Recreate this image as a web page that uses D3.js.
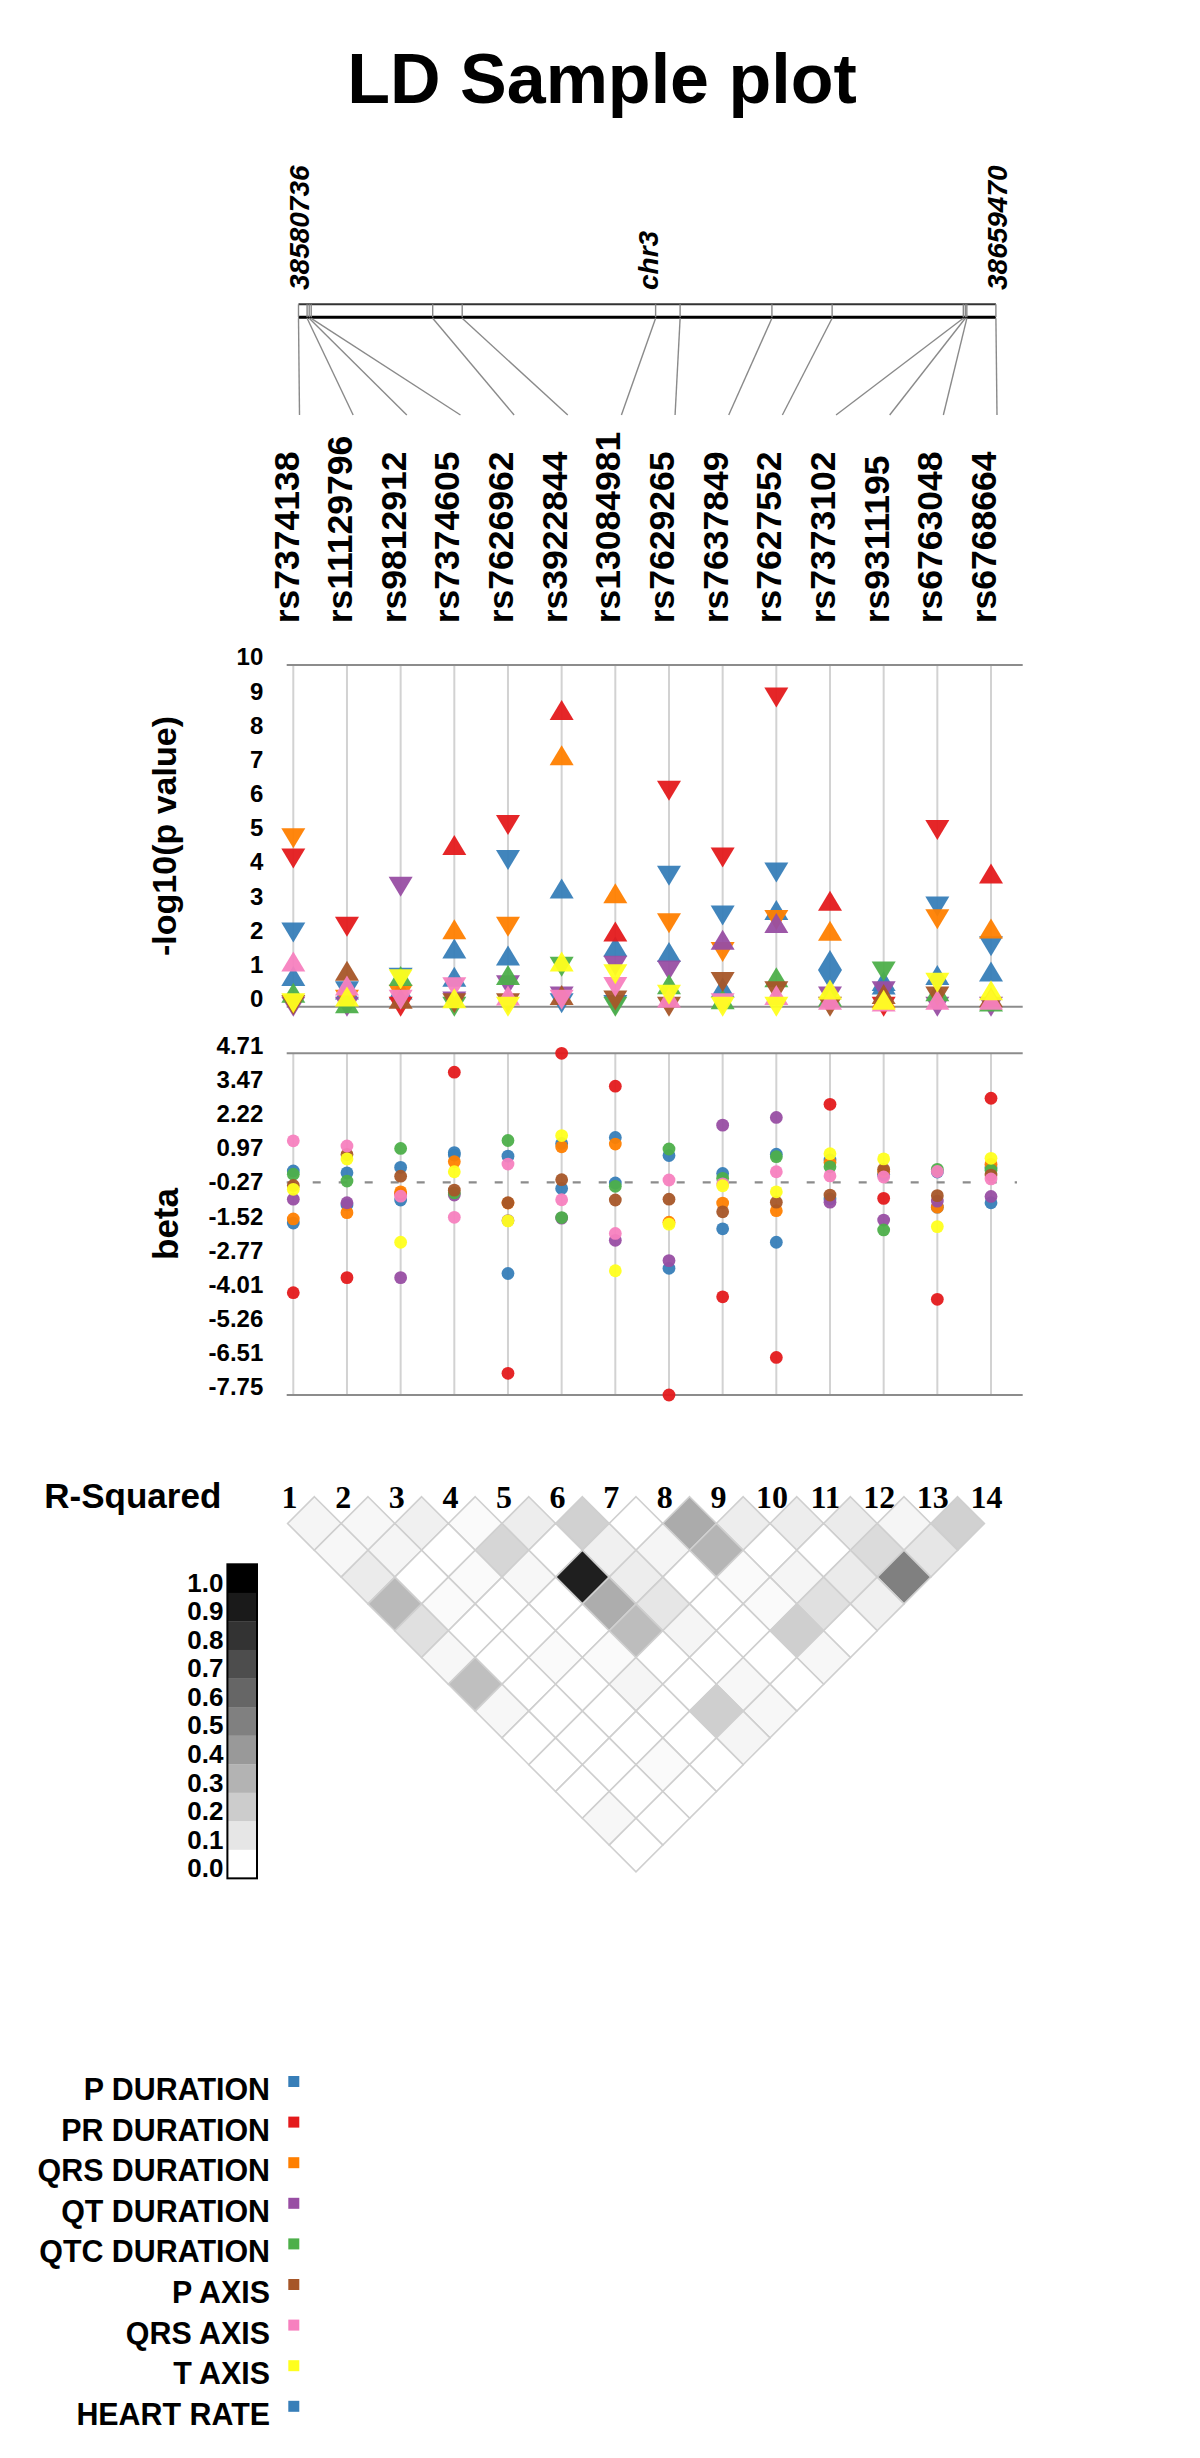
<!DOCTYPE html>
<html><head><meta charset="utf-8">
<script src="https://cdn.jsdelivr.net/npm/d3@7/dist/d3.min.js"></script>
<style>body{margin:0;background:#fff}svg{display:block}</style>
</head><body><svg id="c" width="1200" height="2458"></svg>
<script>
// ---------------- DATA ----------------
const title = "LD Sample plot";
const chromName = "chr3";
const regionStart = 38580736, regionEnd = 38659470;
const snps = ["rs7374138","rs11129796","rs9812912","rs7374605","rs7626962","rs3922844","rs13084981",
              "rs7629265","rs7637849","rs7627552","rs7373102","rs9311195","rs6763048","rs6768664"];
const snpPositions = [38580736,38581707,38581944,38582170,38595887,38599217,38621053,
                      38623819,38634184,38640980,38655792,38656018,38656188,38659470];
const traits = ["P DURATION","PR DURATION","QRS DURATION","QT DURATION","QTC DURATION","P AXIS","QRS AXIS","T AXIS","HEART RATE"];
const traitColors = ["#377eb8","#e41a1c","#ff7f00","#984ea3","#4daf4a","#a65628","#f781bf","#ffff1e","#377eb8"];

// -log10(p) per trait (one value per SNP)
const logP_pDuration   = [0.9,0.5,0.5,1.7,1.5,3.46,1.76,1.6,0.56,2.83,1.37,0.75,0.93,1.03];
const logP_prDuration  = [4.34,2.34,0.0,4.73,5.32,8.68,2.2,6.32,4.37,9.05,3.1,0.0,5.17,3.9];
const logP_qrsDuration = [4.93,0.2,0.35,2.27,2.34,7.36,3.32,2.44,1.6,2.54,2.22,0.25,2.56,2.29];
const logP_qtDuration  = [0.0,0.0,3.51,0.15,0.63,0.3,1.2,1.06,1.96,2.45,0.3,0.45,0.0,0.0];
const logP_qtcDuration = [0.41,0.1,0.9,0.0,0.93,1.17,0.0,0.66,0.22,0.86,0.3,1.03,0.45,0.15];
const logP_pAxis       = [0.05,1.05,0.23,0.1,0.1,0.34,0.18,0.0,0.72,0.45,0.0,0.37,0.3,0.28];
const logP_qrsAxis     = [1.32,0.62,0.2,0.57,0.33,0.2,0.58,0.26,0.1,0.34,0.2,0.15,0.2,0.2];
const logP_tAxis       = [0.1,0.3,0.8,0.25,0.0,1.32,0.95,0.35,0.0,0.0,0.5,0.2,0.7,0.48];
const logP_heartRate   = [2.17,0.45,0.85,0.88,4.29,0.1,0.05,3.83,2.67,3.93,0.78,0.65,2.93,1.77];

// beta per trait (one value per SNP)
const beta_pDuration   = [0.42,0.35,0.55,1.09,0.96,1.42,1.64,0.98,0.33,1.03,0.82,0.28,0.38,0.55];
const beta_prDuration  = [-4.02,-3.47,-0.42,4.02,-6.96,4.71,3.51,-7.75,-4.17,-6.38,2.85,-0.58,-4.26,3.07];
const beta_qrsDuration = [-1.33,-1.1,-0.34,0.76,-0.75,1.3,1.4,-1.45,-0.75,-1.03,0.73,0.4,-0.9,0.66];
const beta_qtDuration  = [-0.61,-0.74,-3.47,-0.46,-1.39,-1.3,-2.11,-2.85,2.09,2.37,-0.72,-1.37,-0.68,-0.51];
const beta_qtcDuration = [0.3,0.05,1.24,-0.38,1.53,-1.28,-0.14,1.22,0.15,0.94,0.57,-1.73,0.48,0.45];
const beta_pAxis       = [-0.11,1.02,0.23,-0.28,-0.74,0.1,-0.64,-0.61,-1.07,-0.72,-0.46,0.48,-0.48,0.27];
const beta_qrsAxis     = [1.52,1.33,-0.5,-1.27,0.67,-0.63,-1.86,0.09,-0.05,0.39,0.24,0.2,0.4,0.13];
const beta_tAxis       = [-0.25,0.86,-2.18,0.39,-1.4,1.71,-3.22,-1.52,-0.12,-0.34,1.05,0.86,-1.61,0.88];
const beta_heartRate   = [-1.48,-0.82,-0.64,1.0,-3.32,-0.22,-0.02,-3.13,-1.69,-2.18,-0.6,0.3,-0.9,-0.74];

const logTicks = [0,1,2,3,4,5,6,7,8,9,10];
const betaTicks = [4.71,3.47,2.22,0.97,-0.27,-1.52,-2.77,-4.01,-5.26,-6.51,-7.75];

// LD r^2, row k = pairs (i, i+k+1)
const ldByDistance = [
  [0.04,0.03,0.06,0.02,0.07,0.18,0.0,0.33,0.07,0.07,0.08,0.04,0.18],
  [0.03,0.04,0.0,0.16,0.0,0.06,0.04,0.29,0.0,0.0,0.14,0.1],
  [0.08,0.0,0.02,0.03,0.88,0.07,0.0,0.02,0.04,0.08,0.5],
  [0.27,0.02,0.0,0.0,0.32,0.1,0.0,0.02,0.12,0.06],
  [0.12,0.0,0.0,0.0,0.26,0.04,0.0,0.19,0.0],
  [0.03,0.0,0.02,0.02,0.0,0.0,0.0,0.03],
  [0.25,0.0,0.0,0.04,0.0,0.03,0.0],
  [0.03,0.0,0.0,0.0,0.19,0.03],
  [0.0,0.0,0.0,0.0,0.04],
  [0.0,0.0,0.02,0.0],
  [0.0,0.0,0.0],
  [0.03,0.0],
  [0.0]
];
const rsqLegendTicks = [1.0,0.9,0.8,0.7,0.6,0.5,0.4,0.3,0.2,0.1,0.0];

// ---------------- DRAW ----------------
const svg = d3.select("#c");
const SANS = "'Liberation Sans', Arial, sans-serif";
const SERIF = "'Liberation Serif', 'Times New Roman', serif";

const logSeries = [logP_pDuration,logP_prDuration,logP_qrsDuration,logP_qtDuration,logP_qtcDuration,logP_pAxis,logP_qrsAxis,logP_tAxis,logP_heartRate];
const betaSeries = [beta_pDuration,beta_prDuration,beta_qrsDuration,beta_qtDuration,beta_qtcDuration,beta_pAxis,beta_qrsAxis,beta_tAxis,beta_heartRate];
const drawOrder = [8,0,1,2,3,4,5,6,7];

// title
svg.append("text").attr("x",602).attr("y",103).attr("text-anchor","middle")
  .attr("font-family",SANS).attr("font-weight","bold").attr("font-size",70).text(title);

// chromosome map
const xGen = d3.scaleLinear().domain([regionStart, regionEnd]).range([298.5, 995.9]);
const xLabel = d3.scalePoint().domain(snps).range([299.5, 997]);
const barTop = 304.3, barBot = 317.3;
const posLabels = [
  {t: String(regionStart), x: xGen(regionStart) + 10},
  {t: chromName, x: (xGen(regionStart)+xGen(regionEnd))/2 + 11},
  {t: String(regionEnd), x: xGen(regionEnd) + 11}
];
svg.selectAll("text.pos").data(posLabels).join("text").attr("class","pos")
  .attr("transform", d => `translate(${d.x},290) rotate(-90)`)
  .attr("font-family",SANS).attr("font-weight","bold").attr("font-style","italic")
  .attr("font-size",28).text(d => d.t);

svg.append("line").attr("x1",xGen(regionStart)).attr("x2",xGen(regionEnd)).attr("y1",barTop).attr("y2",barTop)
  .attr("stroke","#333").attr("stroke-width",2);
svg.append("line").attr("x1",xGen(regionStart)).attr("x2",xGen(regionEnd)).attr("y1",barBot).attr("y2",barBot)
  .attr("stroke","#000").attr("stroke-width",3);
svg.selectAll("line.tick").data(snpPositions).join("line").attr("class","tick")
  .attr("x1",d=>xGen(d)).attr("x2",d=>xGen(d)).attr("y1",barTop).attr("y2",barBot)
  .attr("stroke","#888").attr("stroke-width",1.4);
svg.selectAll("line.conn").data(snps).join("line").attr("class","conn")
  .attr("x1",(d,i)=>xGen(snpPositions[i])).attr("y1",barBot+1)
  .attr("x2",d=>xLabel(d)).attr("y2",415)
  .attr("stroke","#8a8a8a").attr("stroke-width",1.4);

// SNP labels
svg.selectAll("text.snp").data(snps).join("text").attr("class","snp")
  .attr("transform", d => `translate(${xLabel(d)-1},623.3) rotate(-90)`)
  .attr("font-family",SANS).attr("font-weight","bold").attr("font-size",35.5).text(d=>d);

// ---- -log10 plot ----
const xPlot = d3.scalePoint().domain(snps).range([293.3, 991]);
const yLog = d3.scaleLinear().domain([0,10]).range([1006.7, 665]);
const frameX1 = 286.7, frameX2 = 1022.7;

function panelFrame(yTop, yBot) {
  svg.append("g").selectAll("line").data(snps).join("line")
    .attr("x1",d=>xPlot(d)).attr("x2",d=>xPlot(d)).attr("y1",yTop).attr("y2",yBot)
    .attr("stroke","#d2d2d2").attr("stroke-width",2);
  [yTop,yBot].forEach(y => svg.append("line").attr("x1",frameX1).attr("x2",frameX2)
    .attr("y1",y).attr("y2",y).attr("stroke","#8c8c8c").attr("stroke-width",2));
}
panelFrame(yLog(10), yLog(0));

svg.append("g").selectAll("text").data(logTicks).join("text")
  .attr("x",263.3).attr("y",d=>yLog(d)-8).attr("dy","0.35em").attr("text-anchor","end")
  .attr("font-family",SANS).attr("font-weight","bold").attr("font-size",24).text(d=>d);
svg.append("text").attr("transform","translate(176,836) rotate(-90)").attr("text-anchor","middle")
  .attr("font-family",SANS).attr("font-weight","bold").attr("font-size",34).text("-log10(p value)");

const triUp = "M0,-10L12,10L-12,10Z", triDown = "M0,10L12,-10L-12,-10Z";
const gTri = svg.append("g");
drawOrder.forEach(t => {
  gTri.append("g").selectAll("path").data(snps).join("path")
    .attr("transform",(d,i)=>`translate(${xPlot(d)},${yLog(logSeries[t][i])})`)
    .attr("d",(d,i)=> betaSeries[t][i] >= 0 ? triUp : triDown)
    .attr("fill",traitColors[t]).attr("fill-opacity",0.95);
});

// ---- beta plot ----
const yBeta = d3.scaleLinear().domain([-7.75,4.71]).range([1395, 1053.3]);
panelFrame(yBeta(4.71), yBeta(-7.75));
svg.append("line").attr("x1",frameX1).attr("x2",1017).attr("y1",yBeta(0)).attr("y2",yBeta(0))
  .attr("stroke","#8c8c8c").attr("stroke-width",2.2).attr("stroke-dasharray","8,18");
svg.append("g").selectAll("text").data(betaTicks).join("text")
  .attr("x",263.3).attr("y",d=>yBeta(d)-8).attr("dy","0.35em").attr("text-anchor","end")
  .attr("font-family",SANS).attr("font-weight","bold").attr("font-size",24).text(d=>d.toFixed(2));
svg.append("text").attr("transform","translate(178,1224) rotate(-90)").attr("text-anchor","middle")
  .attr("font-family",SANS).attr("font-weight","bold").attr("font-size",35).text("beta");
const gDot = svg.append("g");
drawOrder.forEach(t => {
  gDot.append("g").selectAll("circle").data(snps).join("circle")
    .attr("cx",d=>xPlot(d)).attr("cy",(d,i)=>yBeta(betaSeries[t][i])).attr("r",6.4)
    .attr("fill",traitColors[t]).attr("fill-opacity",0.95);
});

// ---- LD heatmap ----
const xLD = d3.scalePoint().domain(d3.range(snps.length)).range([287.6, 984.4]);
const half = 26.8, ldTop = 1496.7;
const grey = d3.scaleLinear().domain([0,1]).range(["#ffffff","#000000"]);
svg.append("text").attr("x",44.3).attr("y",1508.3).attr("font-family",SANS).attr("font-weight","bold")
  .attr("font-size",35).text("R-Squared");
svg.append("g").selectAll("text").data(snps).join("text")
  .attr("x",(d,i)=>xLD(i)+2).attr("y",1508.3).attr("text-anchor","middle")
  .attr("font-family",SERIF).attr("font-weight","bold").attr("font-size",32).text((d,i)=>i+1);
const cells = [];
ldByDistance.forEach((row,k) => row.forEach((r,i) => cells.push({i, j: i+k+1, r})));
svg.append("g").selectAll("path").data(cells).join("path")
  .attr("transform", d => `translate(${(xLD(d.i)+xLD(d.j))/2},${ldTop + half*(d.j-d.i)})`)
  .attr("d", `M0,${-half}L${half},0L0,${half}L${-half},0Z`)
  .attr("fill", d => grey(d.r)).attr("stroke","#cfcfcf").attr("stroke-width",1.6);

// colour bar
const cbX = 227.4, cbW = 29.6, cbTop = 1564.3, cbH = 28.55;
svg.append("g").selectAll("rect").data(rsqLegendTicks).join("rect")
  .attr("x",cbX).attr("y",(d,i)=>cbTop+i*cbH).attr("width",cbW).attr("height",cbH+0.3)
  .attr("fill",d=>grey(d));
svg.append("rect").attr("x",cbX).attr("y",cbTop).attr("width",cbW).attr("height",cbH*rsqLegendTicks.length)
  .attr("fill","none").attr("stroke","#000").attr("stroke-width",2);
svg.append("g").selectAll("text").data(rsqLegendTicks).join("text")
  .attr("x",223.4).attr("y",(d,i)=>cbTop+i*cbH+cbH/2+4).attr("dy","0.35em").attr("text-anchor","end")
  .attr("font-family",SANS).attr("font-weight","bold").attr("font-size",26).text(d=>d.toFixed(1));

// ---- trait legend ----
const lg = svg.append("g").selectAll("g").data(traits).join("g")
  .attr("transform",(d,i)=>`translate(0,${2100 + i*40.6})`);
lg.append("text").attr("transform","translate(270,0) scale(0.95,1)").attr("text-anchor","end")
  .attr("font-family",SANS).attr("font-weight","bold").attr("font-size",32).text(d=>d);
lg.append("rect").attr("x",288.3).attr("y",-24).attr("width",11).attr("height",11)
  .attr("fill",(d,i)=>traitColors[i]);
</script></body></html>
